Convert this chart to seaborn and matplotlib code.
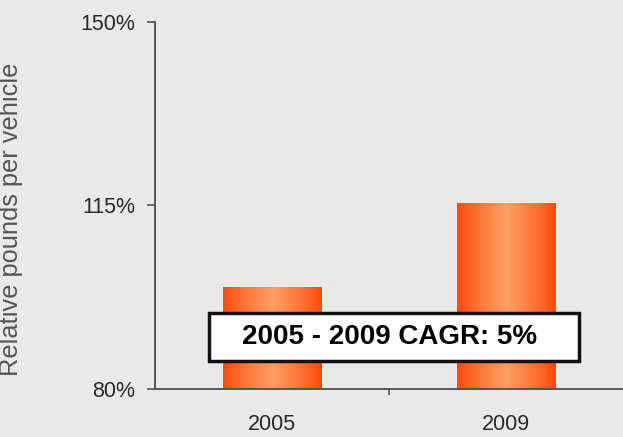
import numpy as np
import pandas as pd
import matplotlib
matplotlib.use("Agg")
import matplotlib.pyplot as plt
from matplotlib.patches import Rectangle
from matplotlib.colors import LinearSegmentedColormap
from matplotlib.ticker import FixedLocator, PercentFormatter
import seaborn as sns

years = ["2005", "2009"]
relative_pounds = [99.5, 115.4]
y_ticks = [80, 115, 150]
callout = "2005 - 2009 CAGR: 5%"

sns.set_theme(style="white")
plt.rcParams["font.family"] = ["Liberation Sans", "DejaVu Sans"]

fig = plt.figure(figsize=(6.23, 4.37), dpi=100, facecolor="#e9e9e9")
ax = fig.add_axes([155 / 623, 1 - 389 / 437, 468 / 623, 367 / 437])
ax.set_facecolor("#e9e9e9")

df = pd.DataFrame({"year": years, "value": relative_pounds})
sns.barplot(data=df, x="year", y="value", color="#ff6a2a", width=0.42,
            ax=ax, zorder=2)

ax.set_xlim(-0.5, 1.5)
ax.set_ylim(80, 150)

# horizontal shading across each bar: saturated edges, lighter centre
shade = LinearSegmentedColormap.from_list(
    "bar_shade", ["#ff4a0c", "#ff7a3c", "#ff9e66", "#ff7a3c", "#ff4a0c"])
grad = np.linspace(0, 1, 256).reshape(1, -1)
ymin = ax.get_ylim()[0]
for patch in ax.patches:
    x0, y0 = patch.get_x(), patch.get_y()
    w, h = patch.get_width(), patch.get_height()
    im = ax.imshow(grad, cmap=shade, aspect="auto",
                   extent=(x0, x0 + w, max(y0, ymin), y0 + h), zorder=3)
    im.set_clip_path(patch)

ax.set_xlim(-0.5, 1.5)
ax.set_ylim(80, 150)
ax.yaxis.set_major_locator(FixedLocator(y_ticks))
ax.yaxis.set_major_formatter(PercentFormatter(decimals=0))

for side in ("top", "right"):
    ax.spines[side].set_visible(False)
for side in ("left", "bottom"):
    ax.spines[side].set_color("#555555")
    ax.spines[side].set_linewidth(1.4)
    ax.spines[side].set_zorder(5)

ax.tick_params(axis="y", direction="out", length=6, width=1.2,
               color="#555555", labelsize=15.5, labelcolor="#2a2a2a", pad=8,
               left=True)
ax.tick_params(axis="x", which="major", length=0, labelsize=15.5,
               labelcolor="#2a2a2a", pad=18)
ax.set_xticks([0.5], minor=True)
ax.tick_params(axis="x", which="minor", direction="out", length=4,
               width=1.2, color="#555555", bottom=True)

ax.set_xlabel("")
ax.set_ylabel("Relative pounds per vehicle", fontsize=18.3, color="#555555")
ax.yaxis.set_label_coords(-(155 - 23) / 468, 0.463)

# CAGR callout box
ax.add_patch(Rectangle((0.1154, 0.0763), 0.7906, 0.1307,
                       transform=ax.transAxes, facecolor="white",
                       edgecolor="#111111", linewidth=2.5, zorder=6,
                       clip_on=False))
ax.text(0.502, 0.142, callout, transform=ax.transAxes, ha="center",
        va="center", fontsize=20, fontweight="bold", color="black",
        zorder=7)

fig.savefig("out.png", dpi=100, facecolor=fig.get_facecolor())
